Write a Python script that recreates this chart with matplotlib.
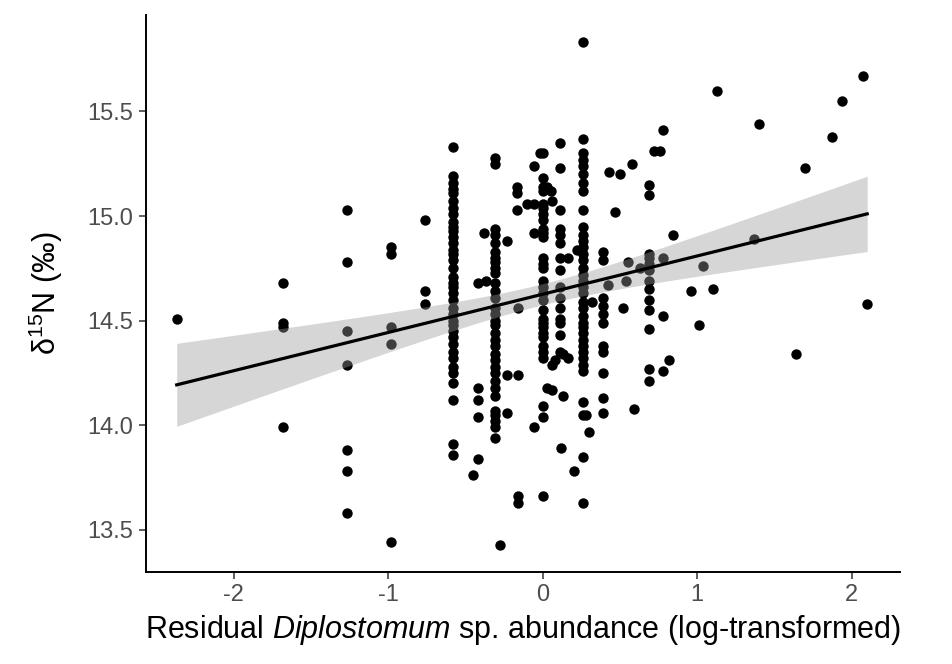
import numpy as np
import matplotlib
matplotlib.use("Agg")
import matplotlib.pyplot as plt

plt.rcParams['font.family'] = ['Liberation Sans', 'DejaVu Sans']
plt.rcParams['mathtext.fontset'] = 'custom'
plt.rcParams['mathtext.rm'] = 'Liberation Sans'
plt.rcParams['mathtext.it'] = 'Liberation Sans:italic'

# fish grouped by (almost) identical residual abundance -> columns of points
column_x = [-2.37, -1.68, -1.27, -0.98, -0.76, -0.58, -0.31, 0.00, 0.11, 0.26, 0.39, 0.69]
column_y = [
    [14.51],
    [14.68, 14.49, 14.47, 13.99],
    [15.03, 14.78, 14.45, 14.29, 13.88, 13.78, 13.58],
    [14.85, 14.82, 14.47, 14.39, 13.44],
    [14.98, 14.64, 14.58],
    [15.33, 15.19, 15.16, 15.13, 15.11, 15.07, 15.04, 15.01, 14.97, 14.95, 14.93, 14.90,
     14.87, 14.84, 14.82, 14.79, 14.75, 14.71, 14.68, 14.66, 14.63, 14.60, 14.56, 14.53,
     14.50, 14.48, 14.45, 14.42, 14.39, 14.35, 14.32, 14.28, 14.25, 14.20, 14.12, 13.91, 13.86],
    [15.28, 15.25, 14.94, 14.91, 14.87, 14.83, 14.80, 14.78, 14.75, 14.73, 14.68, 14.64,
     14.61, 14.56, 14.53, 14.50, 14.48, 14.44, 14.41, 14.38, 14.34, 14.31, 14.28, 14.25,
     14.21, 14.18, 14.14, 14.07, 14.05, 14.02, 13.99, 13.94],
    [15.30, 15.18, 15.14, 15.12, 15.06, 15.04, 15.01, 14.98, 14.94, 14.92, 14.90, 14.80,
     14.77, 14.75, 14.69, 14.66, 14.63, 14.60, 14.55, 14.51, 14.49, 14.47, 14.44, 14.42,
     14.38, 14.35, 14.32, 14.09, 14.04, 13.66],
    [15.35, 15.23, 15.03, 14.94, 14.91, 14.87, 14.80, 14.74, 14.66, 14.61, 14.56, 14.51,
     14.49, 14.43, 14.35],
    [15.83, 15.37, 15.30, 15.27, 15.24, 15.20, 15.16, 15.12, 15.03, 14.95, 14.91, 14.88,
     14.85, 14.82, 14.79, 14.75, 14.72, 14.69, 14.66, 14.63, 14.59, 14.56, 14.52, 14.49,
     14.47, 14.44, 14.41, 14.38, 14.35, 14.32, 14.29, 14.26, 14.11, 14.05, 13.85, 13.63],
    [14.83, 14.79, 14.61, 14.57, 14.53, 14.49, 14.38, 14.35, 14.25, 14.13, 14.06],
    [15.15, 15.10, 14.82, 14.80, 14.77, 14.74, 14.69, 14.65, 14.60, 14.55, 14.46, 14.27, 14.21],
]

# scattered fish between the columns
other_x = [-0.42, -0.37, -0.42, -0.42, -0.42, -0.42, -0.45, -0.38,
           -0.28, -0.23, -0.23, -0.16, -0.23, -0.16, -0.16, -0.16,
           -0.17, -0.17, -0.10, -0.17, -0.06, -0.02, -0.06, -0.06, -0.06,
           0.03, 0.05, 0.06, 0.03, 0.06, 0.13, 0.12, 0.06, 0.08, 0.13, 0.16, 0.16, 0.22,
           0.28, 0.30, 0.20,
           0.32, 0.52, 0.42, 0.54, 0.55, 0.63, 0.47, 0.43, 0.50, 0.58, 0.59,
           0.78, 0.72, 0.76, 0.84, 0.78, 1.04, 0.96, 1.10, 0.78, 1.01, 0.82, 0.78,
           1.37, 1.40, 1.13, 1.64, 1.70, 1.87, 1.94, 2.07, 2.10]
other_y = [14.68, 14.69, 14.18, 14.12, 14.04, 13.84, 13.76, 14.92,
           13.43, 14.88, 14.24, 14.24, 14.06, 13.66, 13.63, 14.56,
           15.14, 15.11, 15.06, 15.03, 15.24, 15.30, 14.92, 15.06, 13.99,
           15.14, 15.12, 15.07, 14.18, 14.17, 14.14, 13.89, 14.29, 14.31, 14.34, 14.32, 14.80, 14.84,
           14.05, 13.97, 13.78,
           14.59, 14.56, 14.67, 14.69, 14.78, 14.75, 15.02, 15.21, 15.20, 15.25, 14.08,
           15.41, 15.31, 15.31, 14.91, 14.80, 14.76, 14.64, 14.65, 14.52, 14.48, 14.31, 14.26,
           14.89, 15.44, 15.60, 14.34, 15.23, 15.38, 15.55, 15.67, 14.58]

x = np.concatenate([np.full(len(ys), cx) for cx, ys in zip(column_x, column_y)] + [np.array(other_x)])
y = np.concatenate([np.array(ys) for ys in column_y] + [np.array(other_y)])

# linear fit with 95% confidence band (like geom_smooth(method = "lm"))
n = len(x)
slope, intercept = np.polyfit(x, y, 1)
resid = y - (intercept + slope * x)
s = np.sqrt(np.sum(resid ** 2) / (n - 2))
sxx = np.sum((x - x.mean()) ** 2)
t_crit = 1.968
xf = np.linspace(x.min(), x.max(), 80)
yf = intercept + slope * xf
se = s * np.sqrt(1 / n + (xf - x.mean()) ** 2 / sxx)

fig = plt.figure(figsize=(9.53, 6.64), dpi=100)
ax = fig.add_axes([0.153, 0.139, 0.791, 0.838])

ax.scatter(x, y, s=56, color='black', linewidths=0, zorder=2)
ax.fill_between(xf, yf - t_crit * se, yf + t_crit * se, color='#999999', alpha=0.4,
                linewidth=0, zorder=3)
ax.plot(xf, yf, color='black', lw=2.3, zorder=4)

ax.set_xlim(-2.57, 2.31)
ax.set_ylim(13.30, 15.96)
ax.set_xticks([-2, -1, 0, 1, 2])
ax.set_xticklabels(['-2', '-1', '0', '1', '2'])
ax.set_yticks([13.5, 14.0, 14.5, 15.0, 15.5])
ax.set_yticklabels(['13.5', '14.0', '14.5', '15.0', '15.5'])

for side in ['top', 'right']:
    ax.spines[side].set_visible(False)
for side in ['left', 'bottom']:
    ax.spines[side].set_linewidth(1.4)
    ax.spines[side].set_color('black')
ax.tick_params(length=5, width=1.1, color='#333333', labelsize=17, labelcolor='#4d4d4d', pad=4)

ax.set_xlabel('Residual $\\mathit{Diplostomum}$ sp. abundance (log-transformed)', fontsize=22, labelpad=5)
ax.set_ylabel('$\\mathregular{δ^{15}}$N (‰)', fontsize=22, labelpad=16)

fig.savefig('out.png', dpi=100, facecolor='white')
